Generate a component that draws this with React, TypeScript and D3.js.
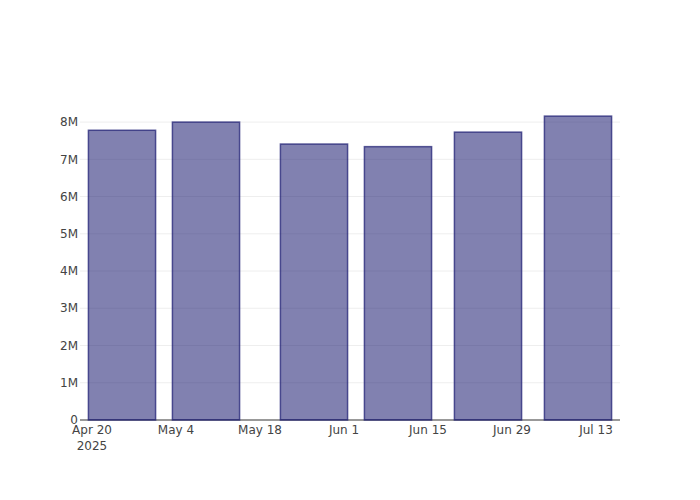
import React, { useEffect, useRef } from "react";
import * as d3 from "d3";

const dates = ["2025-04-25", "2025-05-09", "2025-05-27", "2025-06-10", "2025-06-25", "2025-07-10"];
const values = [7.78e6, 8.0e6, 7.41e6, 7.34e6, 7.73e6, 8.16e6];
const yTicks = [0, 1e6, 2e6, 3e6, 4e6, 5e6, 6e6, 7e6, 8e6];
const xTicks = ["2025-04-20", "2025-05-04", "2025-05-18", "2025-06-01", "2025-06-15", "2025-06-29", "2025-07-13"];

const App = () => {
  const ref = useRef<SVGSVGElement>(null);

  useEffect(() => {
    const svg = d3.select(ref.current);
    svg.selectAll("*").remove();
    const width = 700,
      height = 500,
      margin = { top: 100, right: 80, bottom: 80, left: 80 };
    const parse = d3.utcParse("%Y-%m-%d");
    const data = dates.map((d, i) => ({ date: parse(d)!, value: values[i] }));
    const day = 24 * 3600 * 1000;
    const spacing = 14 * day;
    const barW = 0.8 * spacing;

    const x = d3
      .scaleUtc()
      .domain([
        new Date(data[0].date.getTime() - spacing / 2),
        new Date(data[data.length - 1].date.getTime() + spacing / 2),
      ])
      .range([margin.left, width - margin.right]);
    const yMax = d3.max(values)! * 1.053;
    const y = d3.scaleLinear().domain([0, yMax]).range([height - margin.bottom, margin.top]);

    const font = "'DejaVu Sans', sans-serif";

    // grid
    svg
      .append("g")
      .selectAll("line")
      .data(yTicks.slice(1))
      .enter()
      .append("line")
      .attr("x1", margin.left)
      .attr("x2", width - margin.right)
      .attr("y1", (d) => y(d))
      .attr("y2", (d) => y(d))
      .attr("stroke", "#eeeeee")
      .attr("stroke-width", 1);

    // axis line
    svg
      .append("line")
      .attr("x1", margin.left)
      .attr("x2", width - margin.right)
      .attr("y1", y(0))
      .attr("y2", y(0))
      .attr("stroke", "#999")
      .attr("stroke-width", 2);

    // bars
    svg
      .append("g")
      .selectAll("rect")
      .data(data)
      .enter()
      .append("rect")
      .attr("x", (d) => x(new Date(d.date.getTime() - barW / 2)))
      .attr("width", (d) => x(new Date(d.date.getTime() + barW / 2)) - x(new Date(d.date.getTime() - barW / 2)))
      .attr("y", (d) => y(d.value))
      .attr("height", (d) => y(0) - y(d.value))
      .attr("fill", "rgba(25,25,112,0.55)")
      .attr("stroke", "rgba(25,25,112,0.7)")
      .attr("stroke-width", 1.5);

    // y labels
    svg
      .append("g")
      .selectAll("text")
      .data(yTicks)
      .enter()
      .append("text")
      .attr("x", margin.left - 2)
      .attr("y", (d) => y(d))
      .attr("dy", "0.35em")
      .attr("text-anchor", "end")
      .attr("font-family", font)
      .attr("font-size", 12)
      .attr("fill", "#444")
      .text((d) => (d === 0 ? "0" : d / 1e6 + "M"));

    // x labels
    const fmt = d3.utcFormat("%b %-d");
    const xt = svg
      .append("g")
      .selectAll("text")
      .data(xTicks.map((t) => parse(t)!))
      .enter()
      .append("text")
      .attr("x", (d) => x(d))
      .attr("y", y(0) + 14)
      .attr("text-anchor", "middle")
      .attr("font-family", font)
      .attr("font-size", 12)
      .attr("fill", "#444");
    xt.append("tspan").attr("x", (d) => x(d)).text((d) => fmt(d));
    xt.filter((d, i) => i === 0)
      .append("tspan")
      .attr("x", (d) => x(d))
      .attr("dy", "1.3em")
      .text((d) => d3.utcFormat("%Y")(d));
  }, []);

  return <svg ref={ref} width={700} height={500} style={{ display: "block", margin: -8 }}></svg>;
};

export default App;
